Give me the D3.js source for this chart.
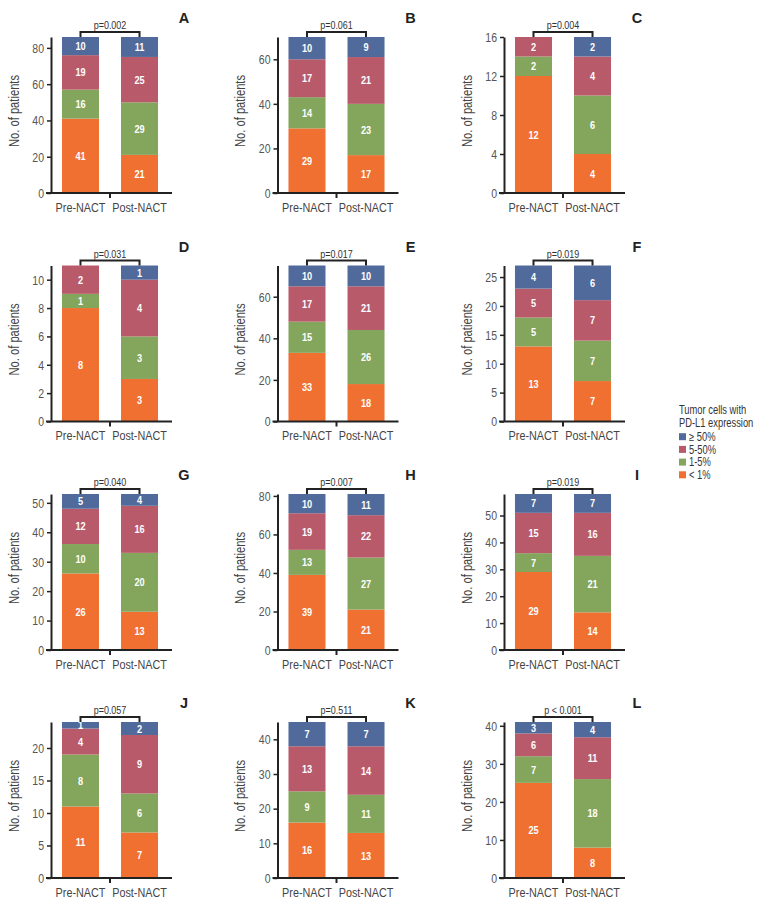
<!DOCTYPE html>
<html><head><meta charset="utf-8">
<script src="https://cdn.jsdelivr.net/npm/d3@7/dist/d3.min.js"></script>
<style>
body{margin:0;background:#fff;}
svg{display:block;}
</style></head>
<body>
<svg id="chart" width="759" height="911"></svg>
<script>
// ---- data ----
const categories = ["Pre-NACT", "Post-NACT"];
const levels = ["< 1%", "1-5%", "5-50%", "\u2265 50%"];
const panelLetters = ["A","B","C","D","E","F","G","H","I","J","K","L"];
const pLabels = ["p=0.002","p=0.061","p=0.004","p=0.031","p=0.017","p=0.019","p=0.040","p=0.007","p=0.019","p=0.057","p=0.511","p < 0.001"];
// counts ordered as levels: [<1%, 1-5%, 5-50%, >=50%]
const preCounts = [
  [41,16,19,10],[29,14,17,10],[12,2,2,0],
  [8,1,2,0],[33,15,17,10],[13,5,5,4],
  [26,10,12,5],[39,13,19,10],[29,7,15,7],
  [11,8,4,1],[16,9,13,7],[25,7,6,3]
];
const postCounts = [
  [21,29,25,11],[17,23,21,9],[4,6,4,2],
  [3,3,4,1],[18,26,21,10],[7,7,7,6],
  [13,20,16,4],[21,27,22,11],[14,21,16,7],
  [7,6,9,2],[13,11,14,7],[8,18,11,4]
];
const yTicks = [
  [0,20,40,60,80],[0,20,40,60],[0,4,8,12,16],
  [0,2,4,6,8,10],[0,20,40,60],[0,5,10,15,20,25],
  [0,10,20,30,40,50],[0,20,40,60,80],[0,10,20,30,40,50],
  [0,5,10,15,20],[0,10,20,30,40],[0,10,20,30,40]
];
const legendTitle = ["Tumor cells with", "PD-L1 expression"];
const colors = ["#f07032", "#83a65c", "#b95a6a", "#506a9b"];

// ---- layout ----
const svg = d3.select("#chart");
const plotH = 156, plotW = 118;
const colX = [51, 277.5, 504];
const rowY = [37, 265.5, 494, 722];
const font = "'Liberation Sans',Arial,sans-serif";
const SX = 0.8; // horizontal compression to mimic condensed type

const color = d3.scaleOrdinal().domain(levels).range(colors);

function ctext(parent, x, y, str, size, opts = {}) {
  return parent.append("text")
    .attr("transform", `translate(${x},${y}) ${opts.rotate ? "rotate(" + opts.rotate + ")" : ""} scale(${opts.sx || SX},1)`)
    .attr("text-anchor", opts.anchor || "middle")
    .attr("dy", opts.dy || "0.35em")
    .attr("font-family", font)
    .attr("font-size", size)
    .attr("font-weight", opts.weight || "normal")
    .attr("fill", opts.fill || "#333")
    .text(str);
}

panelLetters.forEach((letter, i) => {
  const g = svg.append("g")
    .attr("transform", `translate(${colX[i % 3]},${rowY[Math.floor(i / 3)]})`);
  const series = [preCounts[i], postCounts[i]];
  const total = d3.max(series, s => d3.sum(s));
  const y = d3.scaleLinear().domain([0, total]).range([plotH, 0]);
  const x = d3.scaleBand().domain(categories).range([0, plotW])
    .paddingInner(0.373).paddingOuter(0.186);

  // stacked bars
  categories.forEach((cat, ci) => {
    const vals = series[ci];
    const cum = d3.cumsum(vals);
    vals.forEach((v, li) => {
      if (v <= 0) return;
      const y0 = cum[li] - v, y1 = cum[li];
      g.append("rect")
        .attr("x", x(cat)).attr("width", x.bandwidth())
        .attr("y", y(y1)).attr("height", y(y0) - y(y1))
        .attr("fill", color(levels[li]));
      ctext(g, x(cat) + x.bandwidth() / 2, (y(y0) + y(y1)) / 2, v, 11.5,
        { weight: "bold", fill: "#fff", sx: 0.8 });
    });
  });

  // y axis
  const ya = g.append("g").call(d3.axisLeft(y).tickValues(yTicks[i]).tickSize(4).tickSizeOuter(0).tickPadding(3));
  ya.select(".domain").attr("stroke", "#222").attr("stroke-width", 2);
  ya.selectAll(".tick line").attr("stroke", "#222").attr("stroke-width", 1.5);
  ya.selectAll(".tick text").attr("font-family", font).attr("font-size", 13.5)
    .attr("fill", "#555").attr("transform", "scale(0.78,1)").attr("x", -9);

  // x axis labels
  const xa = g.append("g").attr("transform", `translate(0,${plotH})`)
    .call(d3.axisBottom(x).tickSize(0).tickPadding(9));
  xa.select(".domain").remove();
  xa.selectAll(".tick text").attr("font-family", font).attr("font-size", 13.5)
    .attr("fill", "#444").attr("transform", "scale(0.8,1)");
  // x axis line and middle tick
  const mid = (x(categories[0]) + x.bandwidth() / 2 + x(categories[1]) + x.bandwidth() / 2) / 2;
  g.append("line").attr("x1", -5).attr("x2", plotW + 3).attr("y1", plotH).attr("y2", plotH)
    .attr("stroke", "#222").attr("stroke-width", 2);
  g.append("line").attr("x1", mid).attr("x2", mid).attr("y1", plotH).attr("y2", plotH + 5)
    .attr("stroke", "#222").attr("stroke-width", 2);

  // y label
  ctext(g, -37, plotH / 2 - 4, "No. of patients", 14, { rotate: -90, fill: "#444", sx: 0.8 });

  // significance bracket
  const c1 = x(categories[0]) + x.bandwidth() / 2, c2 = x(categories[1]) + x.bandwidth() / 2;
  g.append("path")
    .attr("d", `M${c1},${y(total)}V-5H${c2}V${y(total)}`)
    .attr("fill", "none").attr("stroke", "#222").attr("stroke-width", 2);
  ctext(g, (c1 + c2) / 2, -12, pLabels[i], 11.5, { fill: "#333", sx: 0.78 });

  // panel letter
  g.append("text")
    .attr("x", 133).attr("y", -14)
    .attr("text-anchor", "middle")
    .attr("font-family", font)
    .attr("font-weight", "bold").attr("font-size", 14.5).attr("fill", "#222")
    .text(letter);
});

// legend
const lg = svg.append("g").attr("transform", "translate(679,0)");
legendTitle.forEach((t, k) => {
  ctext(lg, 0, 410 + k * 12.6, t, 12, { anchor: "start", fill: "#333", sx: 0.78 });
});
const legendOrder = levels.slice().reverse();
legendOrder.forEach((lv, k) => {
  const yy = 436.7 + k * 12.7;
  lg.append("rect").attr("x", 0).attr("y", yy - 3.5).attr("width", 7).attr("height", 7).attr("fill", color(lv));
  ctext(lg, 10, yy, lv, 12, { anchor: "start", fill: "#333", sx: 0.78 });
});
</script>
</body></html>
